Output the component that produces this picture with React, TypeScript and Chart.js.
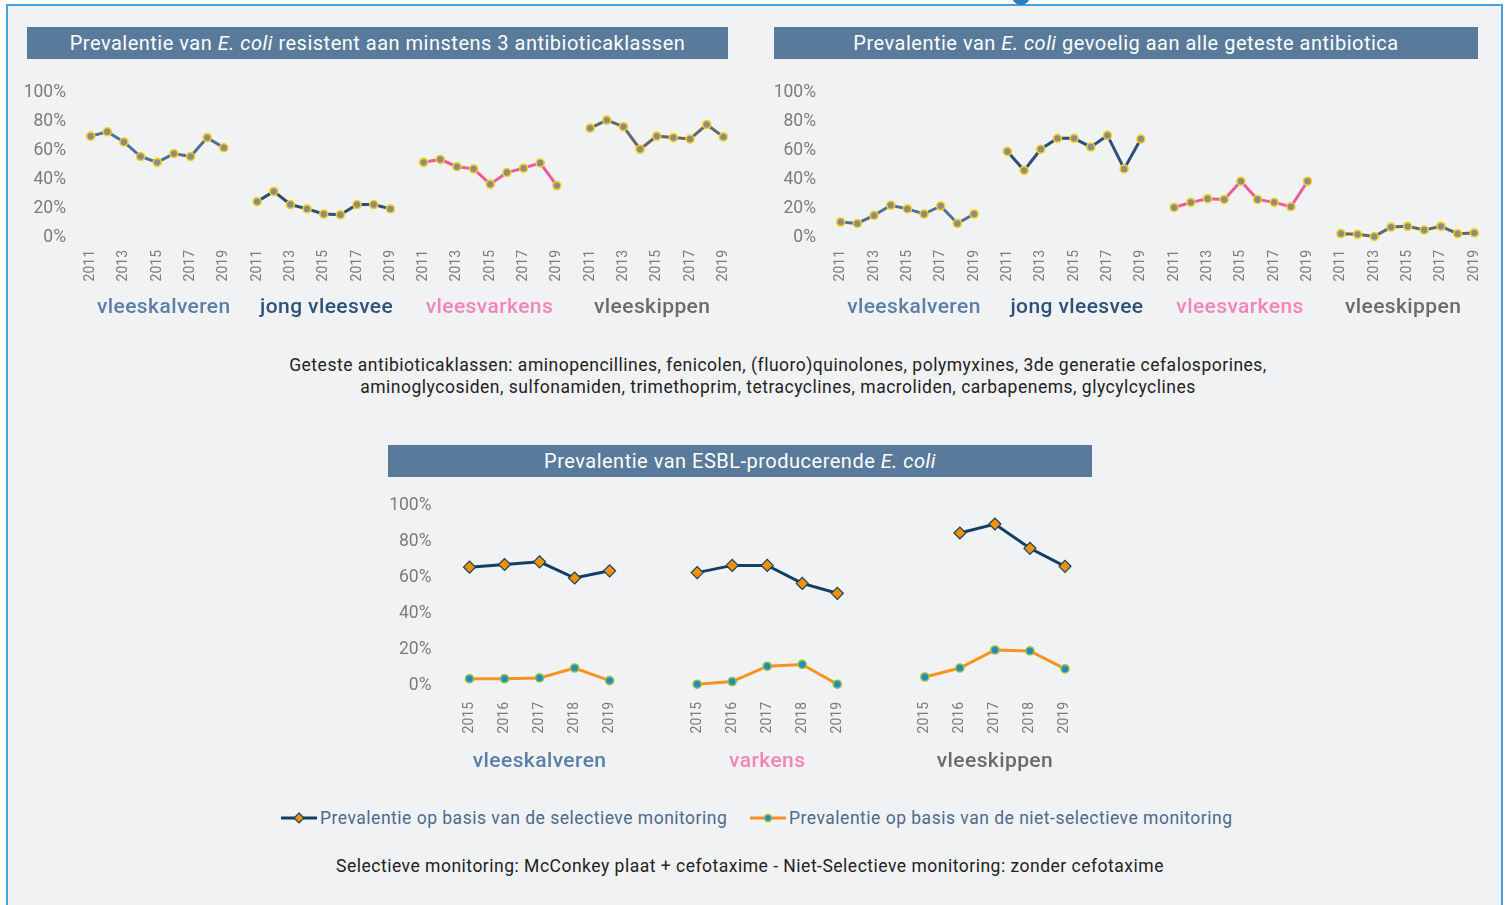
import React, { useEffect, useRef } from "react";
import { Chart, registerables } from "chart.js";

Chart.register(...registerables);

// ---------- data ----------
const TOP_YEARS = [2011, 2012, 2013, 2014, 2015, 2016, 2017, 2018, 2019];
const TOP_TICK_YEARS = [2011, 2013, 2015, 2017, 2019];
const TOP_GROUPS = ["vleeskalveren", "jong vleesvee", "vleesvarkens", "vleeskippen"];

const RES_VLEESKALVEREN = [70, 73, 66, 56, 52, 58, 56, 69, 62];
const RES_JONG_VLEESVEE = [25, 32, 23, 20, 16.5, 16, 23, 23, 20];
const RES_VLEESVARKENS = [52, 54, 49, 47.5, 37, 45, 48, 51.5, 36];
const RES_VLEESKIPPEN = [75.5, 81, 76.5, 61, 70, 69, 68, 78, 69.5];

const SENS_VLEESKALVEREN = [11, 10, 15.5, 22.5, 20, 16.5, 22, 10, 16.5];
const SENS_JONG_VLEESVEE = [59.5, 46.5, 61, 68.5, 68.5, 62.5, 70.5, 47.5, 68];
const SENS_VLEESVARKENS = [21, 24.5, 27, 26.5, 39, 26.5, 24.5, 21.5, 39];
const SENS_VLEESKIPPEN = [3, 2.5, 1, 7.5, 8, 5.5, 8, 3, 3.5];

const ESBL_YEARS = [2015, 2016, 2017, 2018, 2019];
const ESBL_GROUPS = ["vleeskalveren", "varkens", "vleeskippen"];
const ESBL_SEL_VLEESKALVEREN = [66, 67.5, 69, 60, 64];
const ESBL_SEL_VARKENS = [63, 67, 67, 57, 51.5];
const ESBL_SEL_VLEESKIPPEN: (number | null)[] = [null, 85, 90, 76.5, 66.5];
const ESBL_NONSEL_VLEESKALVEREN = [4, 4, 4.5, 10, 3];
const ESBL_NONSEL_VARKENS = [1, 2.5, 11, 12, 1];
const ESBL_NONSEL_VLEESKIPPEN = [5, 10, 20, 19.5, 9.5];

const Y_TICKS = [0, 20, 40, 60, 80, 100];

const TITLE_RES = ["Prevalentie van ", "E. coli", " resistent aan minstens 3 antibioticaklassen"];
const TITLE_SENS = ["Prevalentie van ", "E. coli", " gevoelig aan alle geteste antibiotica"];
const TITLE_ESBL = ["Prevalentie van ESBL-producerende ", "E. coli", ""];
const NOTE_CLASSES_1 =
  "Geteste antibioticaklassen: aminopencillines, fenicolen, (fluoro)quinolones, polymyxines, 3de generatie cefalosporines,";
const NOTE_CLASSES_2 =
  "aminoglycosiden, sulfonamiden, trimethoprim, tetracyclines, macroliden, carbapenems, glycylcyclines";
const LEGEND_SEL = "Prevalentie op basis van de selectieve monitoring";
const LEGEND_NONSEL = "Prevalentie op basis van de niet-selectieve monitoring";
const NOTE_MONITORING =
  "Selectieve monitoring: McConkey plaat + cefotaxime - Niet-Selectieve monitoring: zonder cefotaxime";

// ---------- styles ----------
const FONT = "Roboto, 'Noto Sans', sans-serif";
const BAR_COLOR = "#5a7a9b";
const TOP_LINE_COLORS = ["#4f7093", "#2b5077", "#ef5a9f", "#666666"];
const TOP_LABEL_COLORS = ["#5b7fa5", "#2e5277", "#f483b8", "#6b6b6b"];
const ESBL_LABEL_COLORS = ["#5b7fa5", "#f483b8", "#6b6b6b"];
const SEL_COLOR = "#123f66";
const SEL_MARKER = "#f39200";
const NONSEL_COLOR = "#f7931e";
const NONSEL_MARKER = "#2b86c5";
const NONSEL_MARKER_BORDER = "#8dc63f";
const TICK_COLOR = "#7b7b7b";

const TOP_STRIDE = 10;
const ESBL_STRIDE = 6.5;

function yScale(width: number, padding: number) {
  return {
    type: "linear",
    min: 0,
    max: 100,
    afterBuildTicks: (s: any) => {
      s.ticks = Y_TICKS.map((v) => ({ value: v }));
    },
    afterFit: (s: any) => {
      s.width = width;
      s.paddingTop = 0;
      s.paddingBottom = 0;
      s.paddingLeft = 0;
      s.paddingRight = 0;
    },
    grid: { display: false, drawTicks: false },
    border: { display: false },
    ticks: {
      color: TICK_COLOR,
      padding,
      font: { family: FONT, size: 17.5 },
      callback: (v: any) => v + "%",
    },
  };
}

function xScale(min: number, max: number, tickMap: Map<number, string>, height: number, padding: number) {
  return {
    type: "linear",
    min,
    max,
    afterBuildTicks: (s: any) => {
      s.ticks = Array.from(tickMap.keys()).map((v) => ({ value: v }));
    },
    afterFit: (s: any) => {
      s.height = height;
      s.paddingTop = 0;
      s.paddingBottom = 0;
      s.paddingLeft = 0;
      s.paddingRight = 0;
    },
    grid: { display: false, drawTicks: false },
    border: { display: false },
    ticks: {
      autoSkip: false,
      minRotation: 90,
      maxRotation: 90,
      padding,
      color: TICK_COLOR,
      font: { family: FONT, size: 14 },
      callback: (v: any) => tickMap.get(Math.round(v * 10) / 10) ?? "",
    },
  };
}

function groupLabelPlugin(
  labels: string[],
  colors: string[],
  stride: number,
  span: number,
  offset: number,
  shift: (g: number) => number
) {
  return {
    id: "groupLabels",
    afterDraw(chart: any) {
      const { ctx, chartArea } = chart;
      const x = chart.scales.x;
      labels.forEach((lab, g) => {
        const x0 = x.getPixelForValue(g * stride);
        const x1 = x.getPixelForValue(g * stride + span);
        ctx.save();
        ctx.font = `500 21px ${FONT}`;
        if ("letterSpacing" in ctx) (ctx as any).letterSpacing = "0.4px";
        ctx.fillStyle = colors[g];
        ctx.textAlign = "center";
        ctx.textBaseline = "middle";
        ctx.fillText(lab, (x0 + x1) / 2 + shift(g), chartArea.bottom + offset);
        ctx.restore();
      });
    },
  };
}

function topConfig(series: number[][], yWidth: number, xMin: number, xMax: number) {
  const tickMap = new Map<number, string>();
  TOP_GROUPS.forEach((_, g) => {
    TOP_TICK_YEARS.forEach((yr) => {
      tickMap.set(g * TOP_STRIDE + TOP_YEARS.indexOf(yr), String(yr));
    });
  });
  const datasets = series.map((vals, g) => ({
    label: TOP_GROUPS[g],
    data: vals.map((v, i) => ({ x: g * TOP_STRIDE + i, y: v })),
    borderColor: TOP_LINE_COLORS[g],
    borderWidth: 3,
    pointRadius: 4,
    pointHoverRadius: 4,
    pointBackgroundColor: "#8c8c8c",
    pointBorderColor: "#f7d117",
    pointBorderWidth: 1.6,
    tension: 0,
    clip: false,
  }));
  return {
    type: "line",
    data: { datasets },
    options: {
      animation: false,
      responsive: false,
      devicePixelRatio: 1,
      layout: { autoPadding: false, padding: { top: 22.5, left: 0, right: 0, bottom: 0 } },
      plugins: { legend: { display: false }, tooltip: { enabled: false } },
      scales: {
        x: xScale(xMin, xMax, tickMap, 92, 12),
        y: yScale(yWidth, 8),
      },
    },
    plugins: [
      groupLabelPlugin(TOP_GROUPS, TOP_LABEL_COLORS, TOP_STRIDE, TOP_YEARS.length - 1, 69.5, (g) => (1.5 - g) * 3.7 + 1),
    ],
  };
}

function esblConfig() {
  const tickMap = new Map<number, string>();
  ESBL_GROUPS.forEach((_, g) => {
    ESBL_YEARS.forEach((yr, i) => {
      tickMap.set(Math.round((g * ESBL_STRIDE + i) * 10) / 10, String(yr));
    });
  });
  const sel = [ESBL_SEL_VLEESKALVEREN, ESBL_SEL_VARKENS, ESBL_SEL_VLEESKIPPEN];
  const nonsel = [ESBL_NONSEL_VLEESKALVEREN, ESBL_NONSEL_VARKENS, ESBL_NONSEL_VLEESKIPPEN];
  const datasets: any[] = [];
  ESBL_GROUPS.forEach((grp, g) => {
    datasets.push({
      label: LEGEND_SEL + " " + grp,
      data: sel[g].map((v, i) => ({ x: g * ESBL_STRIDE + i, y: v })),
      borderColor: SEL_COLOR,
      borderWidth: 3,
      pointStyle: "rectRot",
      pointRadius: 6,
      pointHoverRadius: 6,
      pointBackgroundColor: SEL_MARKER,
      pointBorderColor: SEL_COLOR,
      pointBorderWidth: 1.2,
      tension: 0,
      clip: false,
    });
    datasets.push({
      label: LEGEND_NONSEL + " " + grp,
      data: nonsel[g].map((v, i) => ({ x: g * ESBL_STRIDE + i, y: v })),
      borderColor: NONSEL_COLOR,
      borderWidth: 3,
      pointRadius: 4,
      pointHoverRadius: 4,
      pointBackgroundColor: NONSEL_MARKER,
      pointBorderColor: NONSEL_MARKER_BORDER,
      pointBorderWidth: 1.6,
      tension: 0,
      clip: false,
    });
  });
  return {
    type: "line",
    data: { datasets },
    options: {
      animation: false,
      responsive: false,
      devicePixelRatio: 1,
      layout: { autoPadding: false, padding: { top: 15, left: 0, right: 0, bottom: 0 } },
      plugins: { legend: { display: false }, tooltip: { enabled: false } },
      scales: {
        x: xScale(-0.8, 17.8, tickMap, 95, 16),
        y: yScale(61.5, 10),
      },
    },
    plugins: [groupLabelPlugin(ESBL_GROUPS, ESBL_LABEL_COLORS, ESBL_STRIDE, ESBL_YEARS.length - 1, 76, () => 0)],
  };
}

function ChartCanvas(props: { left: number; top: number; width: number; height: number; build: () => any }) {
  const ref = useRef<HTMLCanvasElement>(null);
  useEffect(() => {
    const chart = new Chart(ref.current as HTMLCanvasElement, props.build());
    return () => chart.destroy();
  }, []);
  return (
    <canvas
      ref={ref}
      width={props.width}
      height={props.height}
      style={{ position: "absolute", left: props.left, top: props.top, width: props.width, height: props.height }}
    />
  );
}

function TitleBar(props: { left: number; top: number; width: number; parts: string[] }) {
  return (
    <div
      style={{
        position: "absolute",
        left: props.left,
        top: props.top,
        width: props.width,
        height: 32,
        background: BAR_COLOR,
        color: "#ffffff",
        fontFamily: FONT,
        fontSize: 20,
        letterSpacing: "0.5px",
        lineHeight: "32px",
        textAlign: "center",
        whiteSpace: "nowrap",
      }}
    >
      {props.parts[0]}
      <i>{props.parts[1]}</i>
      {props.parts[2]}
    </div>
  );
}

function Note(props: { top: number; center: number; text: string }) {
  return (
    <div
      style={{
        position: "absolute",
        left: props.center - 700,
        width: 1400,
        top: props.top,
        textAlign: "center",
        fontFamily: FONT,
        fontSize: 17.5,
        letterSpacing: "0.5px",
        lineHeight: "22px",
        color: "#222222",
        whiteSpace: "nowrap",
      }}
    >
      {props.text}
    </div>
  );
}

function LegendItem(props: { left: number; top: number; text: string; sel: boolean }) {
  return (
    <div style={{ position: "absolute", left: props.left, top: props.top, height: 22, display: "flex", alignItems: "center" }}>
      <svg width={36} height={14} style={{ marginRight: 3 }}>
        <line x1={0} y1={7} x2={36} y2={7} stroke={props.sel ? SEL_COLOR : NONSEL_COLOR} strokeWidth={3} />
        {props.sel ? (
          <polygon points="18,2 23,7 18,12 13,7" fill={SEL_MARKER} stroke={SEL_COLOR} strokeWidth={1.2} />
        ) : (
          <circle cx={18} cy={7} r={3.5} fill={NONSEL_MARKER} stroke={NONSEL_MARKER_BORDER} strokeWidth={1.5} />
        )}
      </svg>
      <span style={{ fontFamily: FONT, fontSize: 17.5, letterSpacing: "0.5px", color: "#4b6a8c", whiteSpace: "nowrap" }}>
        {props.text}
      </span>
    </div>
  );
}

export default function App() {
  return (
    <div style={{ position: "absolute", left: 0, top: 0, width: 1508, height: 905, background: "#ffffff", overflow: "hidden" }}>
      <div
        style={{
          position: "absolute",
          left: 6,
          top: 4,
          width: 1497,
          height: 920,
          boxSizing: "border-box",
          border: "2px solid #4aa0dc",
          background: "#f1f2f4",
        }}
      />
      <div
        style={{
          position: "absolute",
          left: 1012,
          top: -13,
          width: 18,
          height: 18,
          borderRadius: 9,
          background: "#2b7cc0",
        }}
      />
      <TitleBar left={27} top={27} width={701} parts={TITLE_RES} />
      <TitleBar left={774} top={27} width={704} parts={TITLE_SENS} />
      <ChartCanvas
        left={14}
        top={70}
        width={726}
        height={260}
        build={() => topConfig([RES_VLEESKALVEREN, RES_JONG_VLEESVEE, RES_VLEESVARKENS, RES_VLEESKIPPEN], 60, -1, 39)}
      />
      <ChartCanvas
        left={764}
        top={70}
        width={727}
        height={260}
        build={() => topConfig([SENS_VLEESKALVEREN, SENS_JONG_VLEESVEE, SENS_VLEESVARKENS, SENS_VLEESKIPPEN], 60, -1, 39)}
      />
      <Note top={354} center={778} text={NOTE_CLASSES_1} />
      <Note top={376} center={778} text={NOTE_CLASSES_2} />
      <TitleBar left={388} top={445} width={704} parts={TITLE_ESBL} />
      <ChartCanvas left={380} top={491} width={713} height={290} build={esblConfig} />
      <LegendItem left={281} top={807} text={LEGEND_SEL} sel={true} />
      <LegendItem left={750} top={807} text={LEGEND_NONSEL} sel={false} />
      <Note top={855} center={750} text={NOTE_MONITORING} />
    </div>
  );
}
